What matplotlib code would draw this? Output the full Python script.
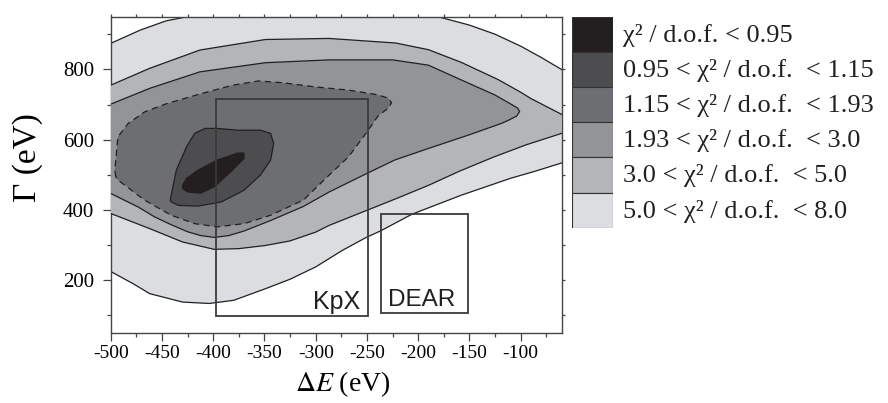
import numpy as np
import matplotlib
matplotlib.use('Agg')
import matplotlib.pyplot as plt
from matplotlib.patches import Rectangle
from matplotlib.ticker import MultipleLocator, NullFormatter

plt.rcParams['font.family'] = ['Liberation Serif', 'DejaVu Serif']
plt.rcParams['mathtext.fontset'] = 'stix'
plt.rcParams['axes.unicode_minus'] = False

# contour boundaries (dE in eV, Gamma in eV)
# chi2/dof < 8.0
c80_de = [-520, -500, -471, -446, -425, -405, -405, -200, -200, -181, -150, -125, -100, -80, -62, -45,
          -45, -62, -85, -110, -158, -206, -237, -250, -274, -300, -325, -349, -380, -404, -430, -446,
          -462, -478, -500, -520]
c80_g = [848, 874, 912, 938, 950, 962, 1010, 1010, 966, 950, 926, 900, 866, 834, 803, 774,
         548, 532, 511, 490, 442, 388, 340, 323, 285, 238, 203, 176, 143, 134, 138, 150,
         162, 190, 225, 256]
# chi2/dof < 5.0
c50_de = [-520, -500, -462, -413, -349, -287, -222, -190, -158, -122, -100, -90, -62, -45,
          -45, -62, -95, -126, -160, -190, -220, -250, -287, -300, -325, -349, -375, -399, -430,
          -462, -500, -520]
c50_g = [727, 755, 803, 855, 885, 888, 875, 856, 820, 771, 735, 717, 675, 648,
         634, 616, 585, 551, 510, 470, 434, 399, 356, 337, 312, 299, 290, 288, 309,
         347, 390, 412]
# chi2/dof < 3.0
c30_de = [-520, -500, -462, -413, -349, -287, -225, -190, -158, -125, -110, -103, -101, -104, -112,
          -119, -151, -190, -223, -250, -287, -312, -344, -370, -385, -399, -412, -425, -441, -457,
          -473, -500, -520]
c30_g = [680, 701, 746, 793, 819, 827, 827, 812, 770, 727, 702, 690, 680, 667, 655,
         646, 613, 575, 542, 504, 451, 410, 370, 340, 327, 322, 327, 338, 358, 380,
         408, 447, 475]
# chi2/dof < 1.93 (dashed)
c193_de = [-495, -496, -493, -483, -467, -446, -413, -381, -356, -332, -300, -268, -240, -229, -226,
           -229, -239, -250, -268, -287, -312, -344, -370, -396, -418, -441, -467, -486, -493]
c193_g = [494, 513, 608, 646, 679, 702, 730, 755, 767, 762, 750, 741, 728, 718, 705,
          690, 668, 622, 551, 499, 428, 385, 361, 352, 361, 385, 428, 470, 485]
# chi2/dof < 1.15
c115_de = [-442, -436, -426, -418, -408, -396, -376, -354, -344, -341, -344, -354, -370, -392,
           -415, -434, -441]
c115_g = [428, 513, 580, 618, 632, 632, 627, 627, 618, 589, 542, 499, 456, 423,
          411, 413, 423]
# chi2/dof < 0.95
c095_de = [-430, -426, -415, -396, -376, -370, -370, -383, -399, -412, -425, -430]
c095_g = [470, 490, 513, 542, 562, 562, 546, 508, 466, 448, 451, 461]

# experiment boxes: (dE min, dE max), (Gamma min, Gamma max)
kpx_de, kpx_g = [-397, -249], [99, 715]
dear_de, dear_g = [-236, -151], [108, 389]

legend_labels = ['χ² / d.o.f. < 0.95',
                 '0.95 < χ² / d.o.f.  < 1.15',
                 '1.15 < χ² / d.o.f.  < 1.93',
                 '1.93 < χ² / d.o.f.  < 3.0',
                 '3.0 < χ² / d.o.f.  < 5.0',
                 '5.0 < χ² / d.o.f.  < 8.0']
level_colors = ['#231f20', '#4d4d4f', '#6d6e71', '#929497', '#b4b5b8', '#dcdde0']

fig = plt.figure(figsize=(8.88, 4.03), dpi=100)
ax = fig.add_axes([0.1247, 0.1737, 0.5078, 0.785])

edge = '#231f20'
regions = [(c80_de, c80_g), (c50_de, c50_g), (c30_de, c30_g),
           (c193_de, c193_g), (c115_de, c115_g), (c095_de, c095_g)]
for i, (xs, ys) in enumerate(regions):
    col = level_colors[::-1][i]
    ls = (0, (5, 3.5)) if i == 3 else '-'
    ax.fill(xs, ys, facecolor=col, edgecolor=edge, lw=0.9, linestyle=ls,
            joinstyle='round', zorder=2 + i)

box_col = '#3a3a3a'
ax.add_patch(Rectangle((kpx_de[0], kpx_g[0]), kpx_de[1] - kpx_de[0], kpx_g[1] - kpx_g[0],
                       fill=False, ec=box_col, lw=1.3, zorder=10))
ax.add_patch(Rectangle((dear_de[0], dear_g[0]), dear_de[1] - dear_de[0], dear_g[1] - dear_g[0],
                       fill=False, ec=box_col, lw=1.3, zorder=10))
ax.text(kpx_de[1] - 8, kpx_g[0] + 20, 'KpX', ha='right', va='baseline',
        family=['Liberation Sans'], fontsize=18, color='#231f20', zorder=11)
ax.text(dear_de[0] + 7, dear_g[0] + 19, 'DEAR', ha='left', va='baseline',
        family=['Liberation Sans'], fontsize=17.5, color='#231f20', zorder=11)

ax.set_xlim(-500, -60)
ax.set_ylim(50, 950)
ax.xaxis.set_major_locator(MultipleLocator(50))
ax.xaxis.set_minor_locator(MultipleLocator(25))
ax.yaxis.set_major_locator(MultipleLocator(200))
ax.yaxis.set_minor_locator(MultipleLocator(100))
ax.tick_params(axis='both', which='major', length=6, width=0.9, color='#444444', direction='out')
ax.tick_params(axis='both', which='minor', length=3, width=0.9, color='#444444', direction='out')
ax.tick_params(axis='x', which='major', labelsize=14, pad=3)
ax.tick_params(axis='y', which='major', labelsize=15, pad=6)
for s in ax.spines.values():
    s.set_color('#444444')
    s.set_linewidth(1.0)

# short outward ticks on the top and right edges
top = ax.secondary_xaxis('top')
top.xaxis.set_major_locator(MultipleLocator(25))
top.xaxis.set_major_formatter(NullFormatter())
top.tick_params(length=2.5, width=0.9, color='#444444')
top.spines['top'].set_visible(False)
right = ax.secondary_yaxis('right')
right.yaxis.set_major_locator(MultipleLocator(100))
right.yaxis.set_major_formatter(NullFormatter())
right.tick_params(length=2.5, width=0.9, color='#444444')
right.spines['right'].set_visible(False)

ax.set_xlabel(r'$\Delta E$ (eV)', fontsize=20)
ax.xaxis.set_label_coords(0.515, -0.115)
ax.xaxis.label.set_va('top')
ax.set_ylabel('Γ (eV)', fontsize=24)
ax.yaxis.set_label_coords(-0.15, 0.553)

# legend as a column of swatches
lax = fig.add_axes([0.6445, 0.435, 0.0462, 0.5236])
pos = np.arange(len(legend_labels))
lax.barh(pos, 1, height=1, color=level_colors, edgecolor='#333333', lw=0.8)
lax.set_xlim(0, 1)
lax.set_ylim(len(legend_labels) - 0.5, -0.5)
lax.axis('off')
for i, lab in enumerate(legend_labels):
    lax.text(1.24, i + 0.03, lab, va='center', ha='left', fontsize=19, color='#231f20')

fig.savefig('out.png', dpi=100)
